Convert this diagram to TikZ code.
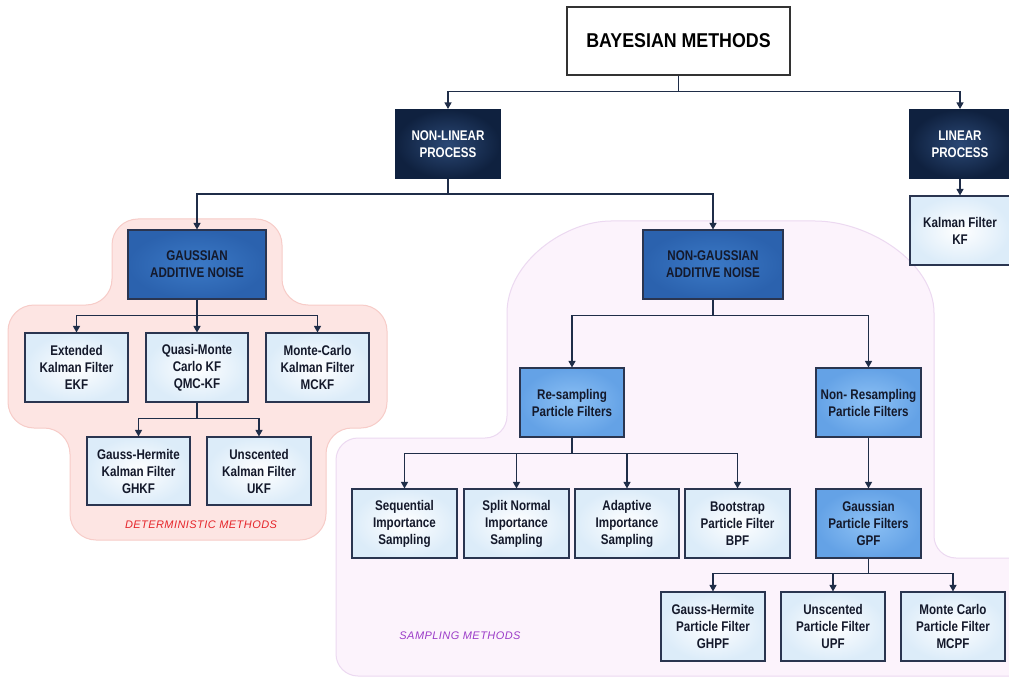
\documentclass[tikz,border=0pt]{standalone}
\usepackage{fontspec}
\setmainfont{Liberation Sans}[FakeStretch=0.83]
\newfontfamily\titlefont{Liberation Sans}[FakeStretch=0.89]
\newfontfamily\notefont{Liberation Sans}[LetterSpace=4]
\usetikzlibrary{arrows.meta}
\definecolor{arrowc}{HTML}{1F2D48}
\definecolor{boxline}{HTML}{2A3550}
\definecolor{txtdark}{HTML}{14192B}
\definecolor{navyin}{HTML}{2B4875}
\definecolor{navyout}{HTML}{0F213F}
\definecolor{medin}{HTML}{3B79C6}
\definecolor{medout}{HTML}{2B62AE}
\definecolor{ltin}{HTML}{8DC1F5}
\definecolor{ltout}{HTML}{64A2E6}
\definecolor{leafout}{HTML}{DCECF9}
\definecolor{pinkfill}{HTML}{FDE5E3}
\definecolor{pinkline}{HTML}{F7CCC8}
\definecolor{purfill}{HTML}{FCF3FC}
\definecolor{purline}{HTML}{ECD9F1}
\definecolor{detred}{HTML}{E5252A}
\definecolor{sampviolet}{HTML}{9B3CC8}
\begin{document}
\begin{tikzpicture}[x=1pt,y=-1pt,
  box/.style={draw=boxline, line width=1.1pt, minimum width=104pt, minimum height=69pt,
    inner sep=0pt, align=center, text=txtdark,
    font=\bfseries\fontsize{14}{17}\selectfont},
  leaf/.style={box, inner color=white, outer color=leafout},
  navy/.style={box, draw=navyout, inner color=navyin, outer color=navyout, text=white},
  med/.style={box, draw=boxline, inner color=medin, outer color=medout, text=txtdark},
  lt/.style={box, draw=boxline, inner color=ltin, outer color=ltout},
  arr/.style={draw=arrowc, line width=1.2pt, -{Triangle[length=6.5pt,width=7pt]}},
  region/.style={line width=1pt, rounded corners=26pt},
  note/.style={font=\notefont\itshape\fontsize{11}{13}\selectfont, inner sep=0pt}
]
\useasboundingbox (0,0) rectangle (1009,679);
\fill[white] (0,0) rectangle (1009,679);

% regions
\draw[region, fill=pinkfill, draw=pinkline]
  (112,219) -- (282,219) -- (282,305) -- (387,305) -- (387,428) -- (326,428)
  -- (326,540) -- (70,540) -- (70,428) -- (8,428) -- (8,305) -- (112,305) -- cycle;
\draw[region, rounded corners=22pt, fill=purfill, draw=purline]
  (336,676) -- (336,438) -- (507,438) -- (507,335)
  .. controls (507,262) and (565,221) .. (633,221) -- (793,221)
  .. controls (868,221) and (934,262) .. (934,335)
  -- (934,558) -- (1040,558) -- (1040,676) -- cycle;

% nodes
\node[box, draw=black!80, line width=1.1pt, minimum width=223pt, minimum height=68pt, text=black,
  font=\titlefont\bfseries\fontsize{20}{24}\selectfont] (bay) at (678.5,41) {BAYESIAN METHODS};
\node[navy] (nonlin) at (448,144) {NON-LINEAR\\PROCESS};
\node[navy, minimum width=100pt] (lin) at (960,144) {LINEAR\\PROCESS};
\node[leaf, minimum width=100pt] (kf) at (960,230.5) {Kalman Filter\\KF};

\node[med, minimum width=138pt] (gauss) at (197,264.5) {GAUSSIAN\\ADDITIVE NOISE};
\node[med, minimum width=140pt] (ngauss) at (713,264.5) {NON-GAUSSIAN\\ADDITIVE NOISE};

\node[leaf, minimum width=103pt] (ekf) at (76.5,367.5) {Extended\\Kalman Filter\\EKF};
\node[leaf, minimum width=102pt] (qmc) at (197,367.5) {Quasi-Monte\\Carlo KF\\QMC-KF};
\node[leaf, minimum width=103pt] (mckf) at (317.5,367.5) {Monte-Carlo\\Kalman Filter\\MCKF};
\node[leaf, minimum width=103pt, minimum height=68pt] (ghkf) at (138.5,471) {Gauss-Hermite\\Kalman Filter\\GHKF};
\node[leaf, minimum height=68pt] (ukf) at (259,471) {Unscented\\Kalman Filter\\UKF};
\node[note, text=detred] (det) at (201,525) {DETERMINISTIC METHODS};

\node[lt] (resamp) at (572,402.5) {Re-sampling\\Particle Filters};
\node[lt, minimum width=105pt] (nonres) at (868.5,402.5) {Non- Resampling\\Particle Filters};
\node[leaf, minimum width=105pt] (sis) at (404.5,523.5) {Sequential\\Importance\\Sampling};
\node[leaf, minimum width=105pt] (snis) at (516.5,523.5) {Split Normal\\Importance\\Sampling};
\node[leaf] (ais) at (627,523.5) {Adaptive\\Importance\\Sampling};
\node[leaf, minimum width=105pt] (bpf) at (737.5,523.5) {Bootstrap\\Particle Filter\\BPF};
\node[lt, minimum width=105pt] (gpf) at (868.5,523.5) {Gaussian\\Particle Filters\\GPF};
\node[leaf] (ghpf) at (713,626.5) {Gauss-Hermite\\Particle Filter\\GHPF};
\node[leaf] (upf) at (833,626.5) {Unscented\\Particle Filter\\UPF};
\node[leaf] (mcpf) at (953,626.5) {Monte Carlo\\Particle Filter\\MCPF};
\node[note, text=sampviolet] (samp) at (460,636) {SAMPLING METHODS};

% connectors
\draw[arr] (bay.south) -- ++(0,16) -| (nonlin.north);
\draw[arr] (bay.south) -- ++(0,16) -| (lin.north);
\draw[arr] (lin.south) -- (kf.north);
\draw[arr] (nonlin.south) -- ++(0,15) -| (gauss.north);
\draw[arr] (nonlin.south) -- ++(0,15) -| (ngauss.north);
\draw[arr] (gauss.south) -- ++(0,16) -| (ekf.north);
\draw[arr] (gauss.south) -- (qmc.north);
\draw[arr] (gauss.south) -- ++(0,16) -| (mckf.north);
\draw[arr] (qmc.south) -- ++(0,16) -| (ghkf.north);
\draw[arr] (qmc.south) -- ++(0,16) -| (ukf.north);
\draw[arr] (ngauss.south) -- ++(0,16) -| (resamp.north);
\draw[arr] (ngauss.south) -- ++(0,16) -| (nonres.north);
\draw[arr] (resamp.south) -- ++(0,16) -| (sis.north);
\draw[arr] (resamp.south) -- ++(0,16) -| (snis.north);
\draw[arr] (resamp.south) -- ++(0,16) -| (ais.north);
\draw[arr] (resamp.south) -- ++(0,16) -| (bpf.north);
\draw[arr] (nonres.south) -- (gpf.north);
\draw[arr] (gpf.south) -- ++(0,15) -| (ghpf.north);
\draw[arr] (gpf.south) -- ++(0,15) -| (upf.north);
\draw[arr] (gpf.south) -- ++(0,15) -| (mcpf.north);
\end{tikzpicture}
\end{document}
